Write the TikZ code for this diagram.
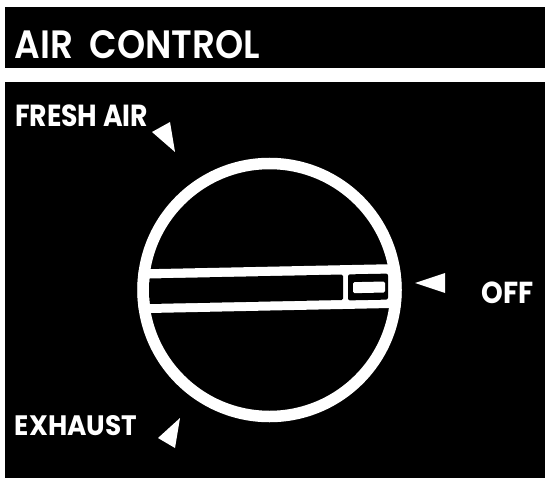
\documentclass[tikz,border=0pt]{standalone}
\usepackage{fontspec}
\usepackage{graphicx}
\setmainfont{Poppins}
\newfontfamily\titlefont{Poppins}[UprightFont=* SemiBold]
\newfontfamily\labelfont{Poppins}[UprightFont=* Bold]
\begin{document}
\begin{tikzpicture}[x=1pt,y=-1pt,
  panel/.style={fill=black},
  pointer/.style={fill=white},
  lbl/.style={text=white, inner sep=0pt, outer sep=0pt, anchor=base west, font=\labelfont}]
\useasboundingbox[fill=white] (0,0) rectangle (545,478);
% panels
\fill[panel] (5,7) rectangle (545,68);
\fill[panel] (5,82) rectangle (545,478);
% texts
\node[lbl, font=\titlefont] (title) at (15,58.3) {\resizebox{245pt}{28pt}{AIR\hspace{0.45em}CONTROL}};
\node[lbl] (fresh) at (15,126.7) {\resizebox{133pt}{21.7pt}{FRESH AIR}};
\node[lbl] (exhaust) at (15,435) {\resizebox{122pt}{20pt}{EXHAUST}};
\node[lbl] (off) at (481.7,303.3) {\resizebox{52pt}{21.6pt}{OFF}};
% pointers
\fill[pointer] (152,132) -- (170,122) -- (175,152) -- cycle;
\fill[pointer] (415,283) -- (445,273) -- (445,293) -- cycle;
\fill[pointer] (158,438) -- (180,418) -- (175,448) -- cycle;
% dial
\coordinate (c) at (269.5,290);
\begin{scope}
  \clip (c) circle[radius=132];
  \fill[white] (130,269.6) -- (410,263.8) -- (410,307.6) -- (130,313.4) -- cycle;
\end{scope}
\begin{scope}
  \clip (c) circle[radius=120.5];
  \fill[black, rounded corners=1.5] (120,279.1) -- (343,274.5) -- (343,300.0) -- (120,304.6) -- cycle;
\end{scope}
\fill[black, rounded corners=2] (348,274.4) -- (388,273.6) -- (388,299.6) -- (348,300.4) -- cycle;
\fill[white, rounded corners=1.5] (353,282.2) -- (385,281.5) -- (385,292.5) -- (353,293.2) -- cycle;
\draw[white, line width=11.5] (c) circle[radius=126.5];
\end{tikzpicture}
\end{document}
